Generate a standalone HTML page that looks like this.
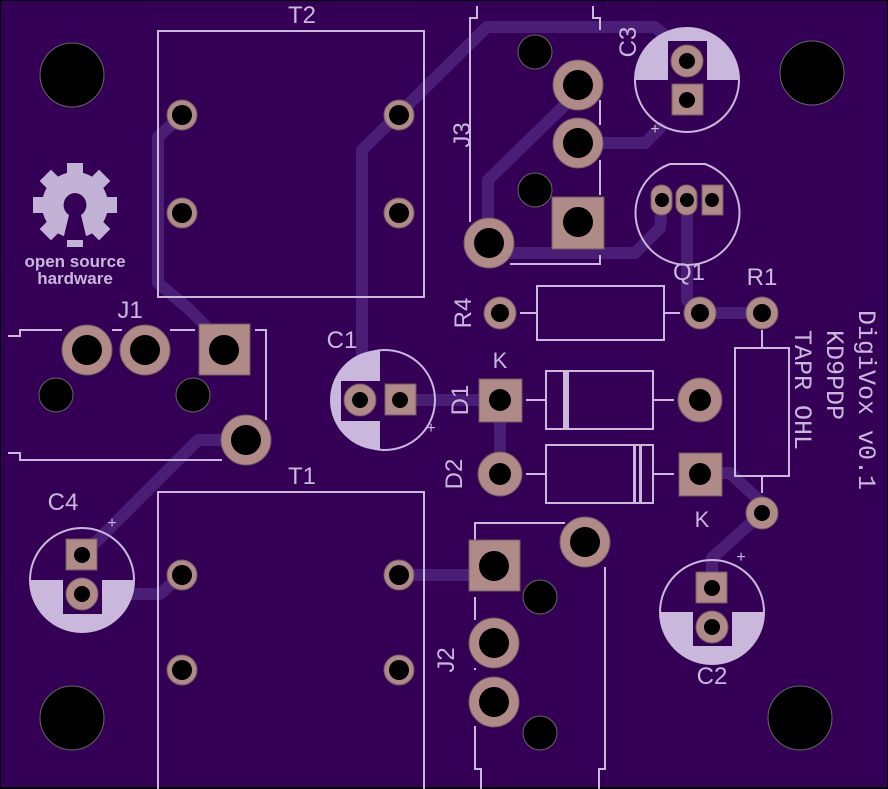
<!DOCTYPE html>
<html><head><meta charset="utf-8"><style>
html,body{margin:0;padding:0;background:#000;}
svg{display:block}
text{font-family:"Liberation Sans",sans-serif;fill:#c9b8dc;}
text.m{font-family:"Liberation Mono",monospace;}
</style></head><body>
<svg width="888" height="789" viewBox="0 0 888 789" xmlns="http://www.w3.org/2000/svg">
<rect x="0" y="0" width="888" height="789" fill="#000"/>
<rect x="1" y="1" width="886" height="786" fill="#330055"/>
<g fill="none" stroke="#4a1d76" stroke-width="12" stroke-linejoin="round" stroke-linecap="round">
<polyline points="182,115 158,137 158,283 190,310 224,345"/>
<polyline points="362,400 362,150 487,27 655,27 687,55"/>
<polyline points="578,143 645,143 660,128"/>
<polyline points="570,100 488,180 488,242"/>
<polyline points="489,253 635,253 660,228 662,205"/>
<polyline points="687,205 687,300 697,313"/>
<polyline points="697,313 762,313"/>
<polyline points="400,400 500,400 500,473"/>
<polyline points="245,440 198,440 90,548"/>
<polyline points="82,594 160,594 181,575"/>
<polyline points="399,575 494,575"/>
<polyline points="700,473 730,473 762,503"/>
<polyline points="762,513 712,558 712,588"/>
</g>
<g fill="#000" stroke="#666" stroke-width="1">
<circle cx="72" cy="75" r="32"/><circle cx="812" cy="73" r="32"/>
<circle cx="72" cy="718" r="32"/><circle cx="800" cy="718" r="32"/>
</g>
<g fill="none" stroke="#c9b8dc" stroke-width="2">
<rect x="158" y="31" width="266" height="266"/>
<rect x="158" y="492" width="266" height="300"/>
<polyline points="477,6 477,18 470,18 470,222"/>
<polyline points="593,6 593,18 600,18 600,30"/>
<line x1="600" y1="100" x2="600" y2="125"/><line x1="600" y1="160" x2="600" y2="195"/>
<polyline points="510,264 600,264 600,255"/>
<circle cx="687" cy="80" r="52"/>
<path d="M670,164 L705,164 A52,52 0 1 1 670,164 Z"/>
<rect x="537" y="286" width="127" height="54"/>
<line x1="520" y1="313" x2="537" y2="313"/><line x1="664" y1="313" x2="680" y2="313"/>
<rect x="735" y="348" width="54" height="128"/>
<line x1="762" y1="330" x2="762" y2="348"/><line x1="762" y1="476" x2="762" y2="493"/>
<rect x="546" y="371" width="107" height="58"/>
<line x1="526" y1="400" x2="546" y2="400"/><line x1="653" y1="400" x2="674" y2="400"/>
<rect x="546" y="445" width="107" height="58"/>
<line x1="526" y1="474" x2="546" y2="474"/><line x1="653" y1="474" x2="674" y2="474"/>
<circle cx="385" cy="400" r="50"/>
<polyline points="8,336 20,336 20,330 62,330"/>
<line x1="112" y1="330" x2="122" y2="330"/><line x1="170" y1="330" x2="195" y2="330"/>
<polyline points="255,330 266,330 266,420"/>
<polyline points="8,453 20,453 20,460 222,460"/>
<circle cx="82" cy="580" r="52"/>
<polyline points="475,540 475,523 565,523"/>
<line x1="475" y1="597" x2="475" y2="620"/><line x1="475" y1="668" x2="475" y2="670"/>
<polyline points="475,726 475,769 481,769 481,789"/>
<polyline points="605,567 605,769 599,769 599,789"/>
<circle cx="712" cy="612" r="52"/>
</g>
<g fill="#c9b8dc">
<rect x="563" y="371" width="6" height="58"/>
<rect x="633" y="445" width="3" height="58"/><rect x="639" y="445" width="3" height="58"/>
<path d="M635,80 A52,52 0 0 1 739,80 Z"/>
<path d="M380,350 A50,50 0 0 0 380,450 Z"/>
<path d="M30,580 A52,52 0 0 0 134,580 Z"/>
<path d="M660,612 A52,52 0 0 0 764,612 Z"/>
</g>
<g fill="#330055">
<rect x="668" y="41" width="39" height="40"/>
<rect x="341" y="381" width="40" height="40"/>
<rect x="63" y="575" width="39" height="39"/>
<rect x="693" y="605" width="39" height="41"/>
</g>
<g fill="#b08a86" stroke="#6f5a60" stroke-width="1">
<circle cx="182" cy="115" r="15"/><circle cx="399" cy="115" r="15"/><circle cx="182" cy="213" r="15"/><circle cx="399" cy="213" r="15"/>
<circle cx="182" cy="575" r="15"/><circle cx="399" cy="575" r="15"/><circle cx="182" cy="670" r="15"/><circle cx="399" cy="670" r="15"/>
<circle cx="578" cy="85" r="25"/><circle cx="578" cy="143" r="25"/><rect x="552" y="197" width="52" height="52"/><circle cx="489" cy="243" r="25"/>
<circle cx="687" cy="61" r="16"/><rect x="672" y="84" width="31" height="31"/>
<rect x="651" y="185" width="21" height="30" rx="10"/><rect x="676" y="185" width="21" height="30" rx="10"/><rect x="702" y="185" width="21" height="30"/>
<circle cx="500" cy="313" r="16"/><circle cx="700" cy="313" r="16"/><circle cx="762" cy="313" r="16"/><circle cx="762" cy="513" r="16"/>
<rect x="479" y="379" width="43" height="43"/><circle cx="700" cy="400" r="22"/>
<circle cx="500" cy="474" r="22"/><rect x="679" y="453" width="43" height="43"/>
<circle cx="360" cy="400" r="16"/><rect x="385" y="384" width="31" height="31"/>
<circle cx="87" cy="350" r="25"/><circle cx="145" cy="350" r="25"/><rect x="199" y="324" width="51" height="51"/><circle cx="246" cy="440" r="25"/>
<rect x="66" y="539" width="31" height="31"/><circle cx="82" cy="594" r="16"/>
<rect x="469" y="540" width="51" height="51"/><circle cx="585" cy="542" r="25"/><circle cx="494" cy="643" r="25"/><circle cx="494" cy="702" r="25"/>
<rect x="696" y="572" width="31" height="31"/><circle cx="712" cy="627" r="16"/>
</g>
<g fill="#000">
<circle cx="182" cy="115" r="10"/><circle cx="399" cy="115" r="10"/><circle cx="182" cy="213" r="10"/><circle cx="399" cy="213" r="10"/>
<circle cx="182" cy="575" r="10"/><circle cx="399" cy="575" r="10"/><circle cx="182" cy="670" r="10"/><circle cx="399" cy="670" r="10"/>
<circle cx="578" cy="85" r="15"/><circle cx="578" cy="143" r="15"/><circle cx="578" cy="222" r="15"/><circle cx="489" cy="243" r="15"/>
<circle cx="687" cy="61" r="8"/><circle cx="687" cy="100" r="8"/>
<circle cx="662" cy="200" r="7"/><circle cx="687" cy="200" r="7"/><circle cx="712" cy="200" r="7"/>
<circle cx="500" cy="313" r="9"/><circle cx="700" cy="313" r="9"/><circle cx="762" cy="313" r="9"/><circle cx="762" cy="513" r="8"/>
<circle cx="500" cy="400" r="11"/><circle cx="700" cy="400" r="11"/><circle cx="500" cy="474" r="11"/><circle cx="700" cy="474" r="11"/>
<circle cx="360" cy="400" r="8"/><circle cx="400" cy="400" r="8"/>
<circle cx="87" cy="350" r="15"/><circle cx="145" cy="350" r="15"/><circle cx="224" cy="350" r="15"/><circle cx="246" cy="440" r="15"/>
<circle cx="82" cy="555" r="8"/><circle cx="82" cy="594" r="8"/>
<circle cx="494" cy="566" r="15"/><circle cx="585" cy="542" r="15"/><circle cx="494" cy="643" r="15"/><circle cx="494" cy="702" r="15"/>
<circle cx="712" cy="588" r="8"/><circle cx="712" cy="627" r="8"/>
</g>
<g fill="#000" stroke="#666" stroke-width="1">
<circle cx="535" cy="52" r="17"/><circle cx="535" cy="190" r="17"/>
<circle cx="56" cy="395" r="17"/><circle cx="193" cy="395" r="17"/>
<circle cx="540" cy="597" r="17"/><circle cx="540" cy="733" r="17"/>
</g>
<g fill="#c2b2d6">
<g transform="translate(75,205)">
<rect x="-8" y="-42" width="16" height="84"/>
<rect x="-8" y="-42" width="16" height="84" transform="rotate(45)"/>
<rect x="-8" y="-42" width="16" height="84" transform="rotate(90)"/>
<rect x="-8" y="-42" width="16" height="84" transform="rotate(135)"/>
<circle cx="0" cy="0" r="33"/>
</g>
<path d="M75,193 a12,12 0 0 0 -6,22 l-6,25 h24 l-6,-25 a12,12 0 0 0 -6,-22z" fill="#330055"/>
<text x="75" y="267" font-size="17" font-weight="bold" text-anchor="middle" fill="#c2b2d6">open source</text>
<text x="75" y="284" font-size="17" font-weight="bold" text-anchor="middle" fill="#c2b2d6">hardware</text>
</g>
<g font-size="24">
<text x="302" y="23" text-anchor="middle">T2</text>
<text x="302" y="484" text-anchor="middle">T1</text>
<text x="130" y="318" text-anchor="middle">J1</text>
<text x="342" y="348" text-anchor="middle">C1</text>
<text x="63" y="510" text-anchor="middle">C4</text>
<text x="712" y="684" text-anchor="middle">C2</text>
<text x="689" y="280" text-anchor="middle">Q1</text>
<text x="762" y="285" text-anchor="middle">R1</text>
<text x="500" y="368" text-anchor="middle" font-size="22">K</text>
<text x="702" y="527" text-anchor="middle" font-size="22">K</text>
<text transform="translate(470,135) rotate(-90)" text-anchor="middle">J3</text>
<text transform="translate(636,42) rotate(-90)" text-anchor="middle">C3</text>
<text transform="translate(471,313) rotate(-90)" text-anchor="middle">R4</text>
<text transform="translate(468,400) rotate(-90)" text-anchor="middle">D1</text>
<text transform="translate(462,474) rotate(-90)" text-anchor="middle">D2</text>
<text transform="translate(454,660) rotate(-90)" text-anchor="middle">J2</text>
<text class="m" font-size="25" transform="translate(859,310) rotate(90)">DigiVox v0.1</text>
<text class="m" font-size="25" transform="translate(827,330) rotate(90)">KD9PDP</text>
<text class="m" font-size="25" transform="translate(795,330) rotate(90)">TAPR OHL</text>
<text x="655" y="134" font-size="16" text-anchor="middle">+</text>
<text x="431" y="433" font-size="16" text-anchor="middle">+</text>
<text x="112" y="528" font-size="16" text-anchor="middle">+</text>
<text x="741" y="562" font-size="16" text-anchor="middle">+</text>
</g>
</svg>
</body></html>
